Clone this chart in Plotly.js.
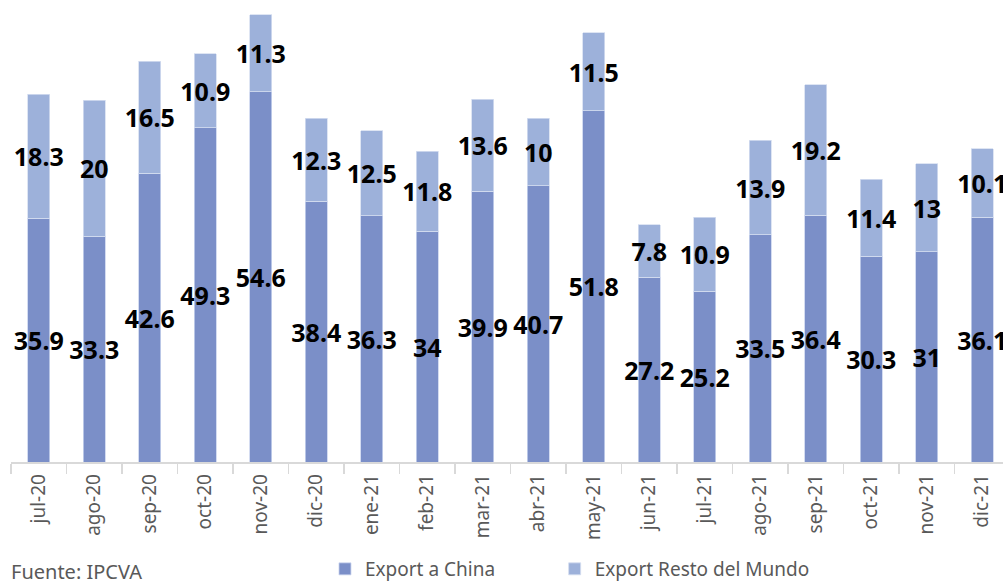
<!DOCTYPE html>
<html>
<head>
<meta charset="utf-8">
<script src="https://cdn.plot.ly/plotly-3.0.1.min.js"></script>
<style>html,body{margin:0;padding:0;background:#fff;}#chart{width:1003px;height:588px;}</style>
</head>
<body>
<div id="chart"></div>
<script>
var categories = ["jul-20","ago-20","sep-20","oct-20","nov-20","dic-20","ene-21","feb-21","mar-21","abr-21","may-21","jun-21","jul-21","ago-21","sep-21","oct-21","nov-21","dic-21"];
var exportChina = [35.9,33.3,42.6,49.3,54.6,38.4,36.3,34,39.9,40.7,51.8,27.2,25.2,33.5,36.4,30.3,31,36.1];
var exportResto = [18.3,20,16.5,10.9,11.3,12.3,12.5,11.8,13.6,10,11.5,7.8,10.9,13.9,19.2,11.4,13,10.1];
var seriesNames = ["Export a China","Export Resto del Mundo"];
var source = "Fuente: IPCVA";

var labelFont = {family:"Noto Sans, Open Sans, sans-serif", size:25, color:"#000000", weight:"bold"};
var greyFont = {family:"Noto Sans, Open Sans, sans-serif", size:19, color:"#595959"};

var traces = [
  {type:"bar", name:seriesNames[0], x:categories, y:exportChina, legend:"legend",
   marker:{color:"#7b8fc8", line:{color:"#c9d3ee", width:0.8}},
   text:exportChina.map(String), textposition:"inside", insidetextanchor:"middle",
   constraintext:"none", textangle:0, cliponaxis:false, insidetextfont:labelFont,
   hoverinfo:"x+y"},
  {type:"bar", name:seriesNames[1], x:categories, y:exportResto, legend:"legend2",
   marker:{color:"#9db1da", line:{color:"#d6def0", width:0.8}},
   text:exportResto.map(String), textposition:"inside", insidetextanchor:"middle",
   constraintext:"none", textangle:0, cliponaxis:false, insidetextfont:labelFont,
   hoverinfo:"x+y"}
];

var layout = {
  width:1003, height:588,
  margin:{l:11, r:0, t:0, b:126, pad:0},
  paper_bgcolor:"#ffffff", plot_bgcolor:"#ffffff",
  barmode:"stack", bargap:0.6,
  showlegend:true,
  legend:{orientation:"h", xref:"container", yref:"container", x:0.324, xanchor:"left", y:0, yanchor:"bottom",
          font:greyFont, itemclick:false, bgcolor:"rgba(0,0,0,0)", borderwidth:0},
  legend2:{orientation:"h", xref:"container", yref:"container", x:0.553, xanchor:"left", y:0, yanchor:"bottom",
          font:greyFont, itemclick:false, bgcolor:"rgba(0,0,0,0)", borderwidth:0},
  xaxis:{type:"category", range:[-0.5,17.374], showgrid:false, zeroline:false,
         showline:true, linecolor:"#d9d9d9", linewidth:1.5,
         ticks:"outside", tickson:"boundaries", ticklen:10, tickcolor:"#d9d9d9", tickwidth:1.5,
         tickangle:-90, ticklabelstandoff:3, automargin:false,
         tickfont:greyFont,
         fixedrange:true},
  yaxis:{range:[0,68.1], showgrid:false, zeroline:false, showline:false, showticklabels:false, ticks:"", fixedrange:true},
  annotations:[
    {text:source, xref:"paper", yref:"paper", x:-0.002, y:-0.27, xanchor:"left", yanchor:"bottom",
     showarrow:false, font:{family:"Noto Sans, Open Sans, sans-serif", size:20, color:"#595959"}}
  ]
};

Plotly.newPlot("chart", traces, layout, {displayModeBar:false, staticPlot:true});
</script>
</body>
</html>
